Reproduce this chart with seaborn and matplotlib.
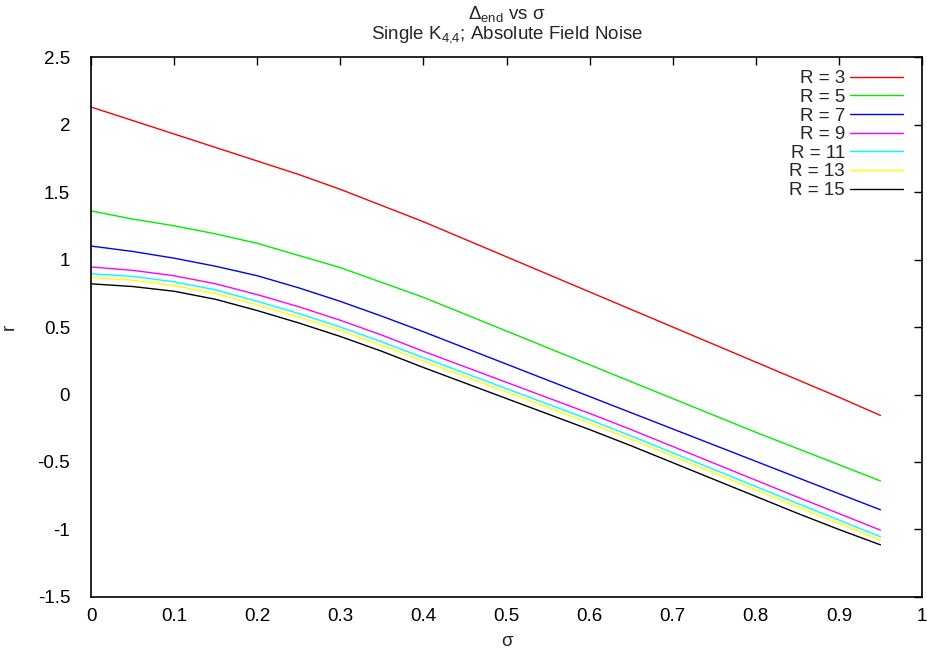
import numpy as np
import pandas as pd
import matplotlib
matplotlib.use("Agg")
import matplotlib.pyplot as plt
import seaborn as sns

sigma = [0.0, 0.05, 0.1, 0.15, 0.2, 0.25, 0.3, 0.35, 0.4, 0.45,
         0.5, 0.55, 0.6, 0.65, 0.7, 0.75, 0.8, 0.85, 0.9, 0.95]

r_R3 = [2.13, 2.03, 1.93, 1.83, 1.73, 1.63, 1.52, 1.40, 1.28, 1.15,
        1.02, 0.89, 0.76, 0.63, 0.50, 0.37, 0.24, 0.11, -0.02, -0.155]
r_R5 = [1.36, 1.30, 1.25, 1.19, 1.12, 1.03, 0.94, 0.83, 0.72, 0.595,
        0.47, 0.345, 0.22, 0.095, -0.03, -0.155, -0.28, -0.40, -0.52, -0.64]
r_R7 = [1.10, 1.06, 1.01, 0.95, 0.88, 0.79, 0.69, 0.58, 0.465, 0.345,
        0.225, 0.105, -0.015, -0.135, -0.255, -0.375, -0.495, -0.615, -0.735, -0.854]
r_R9 = [0.945, 0.92, 0.88, 0.82, 0.74, 0.65, 0.55, 0.44, 0.32, 0.205,
        0.09, -0.025, -0.14, -0.26, -0.385, -0.51, -0.635, -0.76, -0.882, -1.005]
r_R11 = [0.895, 0.875, 0.835, 0.775, 0.69, 0.60, 0.50, 0.39, 0.273, 0.158,
         0.043, -0.072, -0.187, -0.307, -0.432, -0.557, -0.682, -0.807, -0.93, -1.054]
r_R13 = [0.867, 0.847, 0.807, 0.747, 0.663, 0.573, 0.473, 0.363, 0.248, 0.133,
         0.018, -0.097, -0.212, -0.332, -0.457, -0.582, -0.707, -0.832, -0.955, -1.079]
r_R15 = [0.82, 0.80, 0.765, 0.705, 0.622, 0.53, 0.43, 0.32, 0.20, 0.085,
         -0.03, -0.145, -0.26, -0.38, -0.505, -0.63, -0.755, -0.88, -1.0, -1.114]

series_labels = ["R = 3", "R = 5", "R = 7", "R = 9", "R = 11", "R = 13", "R = 15"]
series_values = [r_R3, r_R5, r_R7, r_R9, r_R11, r_R13, r_R15]
colors = ["#ff0000", "#00ee00", "#0000ff", "#ff00ff", "#00ffff", "#ffff00", "#000000"]

x_ticks = [0, 0.1, 0.2, 0.3, 0.4, 0.5, 0.6, 0.7, 0.8, 0.9, 1]
y_ticks = [-1.5, -1, -0.5, 0, 0.5, 1, 1.5, 2, 2.5]

rows = []
for lab, vals in zip(series_labels, series_values):
    for s, v in zip(sigma, vals):
        rows.append({"sigma": s, "r": v, "R": lab})
df = pd.DataFrame(rows)

sns.set_theme(style="white")
plt.rcParams["font.family"] = ["Liberation Sans", "DejaVu Sans"]
plt.rcParams["mathtext.fontset"] = "custom"
plt.rcParams["mathtext.rm"] = "Liberation Sans"
plt.rcParams["mathtext.it"] = "Liberation Sans"
plt.rcParams["mathtext.bf"] = "Liberation Sans"

FS = 13.5

fig = plt.figure(figsize=(9.27, 6.56), dpi=100)
ax = fig.add_axes([0.0982, 0.090, 0.8964, 0.823])

sns.lineplot(data=df, x="sigma", y="r", hue="R", hue_order=series_labels,
             palette=colors, linewidth=1.0, ax=ax, legend=True)

ax.set_xlim(0, 1)
ax.set_ylim(-1.5, 2.5)
ax.set_xticks(x_ticks)
ax.set_xticklabels([f"{t:g}" for t in x_ticks])
ax.set_yticks(y_ticks)
ax.set_yticklabels([f"{t:g}" for t in y_ticks])
ax.tick_params(direction="in", length=6, width=1, top=True, right=True,
               labelsize=FS, colors="black")
ax.tick_params(axis="y", pad=15)
ax.tick_params(axis="x", pad=8)
for sp in ax.spines.values():
    sp.set_color("black")
    sp.set_linewidth(1.2)

ax.set_xlabel("σ", fontsize=FS, labelpad=6)
ax.set_ylabel("r", fontsize=FS, rotation=90)
ax.yaxis.set_label_coords(-0.088, 0.5)

fig.text(0.547, 0.994, r"$\Delta_{\mathrm{end}}$ vs σ", ha="center", va="top", fontsize=FS)
fig.text(0.547, 0.964, r"Single K$_{4{,}4}$; Absolute Field Noise", ha="center", va="top", fontsize=FS)

leg = ax.legend(loc="upper right", bbox_to_anchor=(0.993, 1.0), frameon=False,
                markerfirst=False, handlelength=2.85, fontsize=FS, labelspacing=0.08,
                handletextpad=0.25, borderaxespad=0.3)
for t in leg.get_texts():
    t.set_ha("right")
leg._legend_box.align = "right"

fig.savefig("out.png", dpi=100)
